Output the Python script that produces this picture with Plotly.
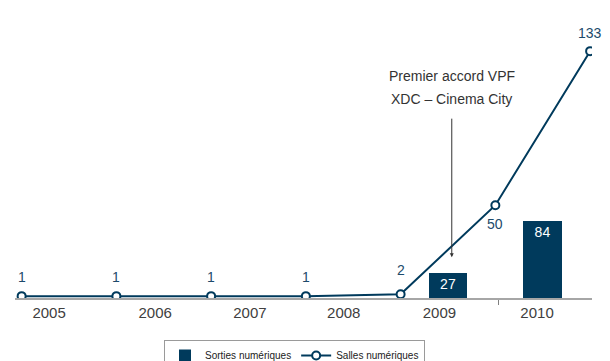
import plotly.graph_objects as go

# ---- data ----
years = ["2005", "2006", "2007", "2008", "2009", "2010"]
sorties = [None, None, None, None, 27, 84]          # Sorties numériques (bars)
salles = [1, 1, 1, 1, 2, 50, 133]                   # Salles numériques (line, at year boundaries)

NAVY = "#003a5c"
LABEL = "#1d4a6b"
FONT = "Liberation Sans, Arial, sans-serif"

line_x = list(range(len(salles)))
bar_x = [i + 0.5 for i in range(len(years))]

fig = go.Figure()

fig.add_trace(go.Bar(
    x=bar_x, y=sorties, name="Sorties numériques",
    marker=dict(color=NAVY, line=dict(width=0)),
    width=0.41, yaxis="y2",
    text=[("" if v is None else str(v)) for v in sorties],
    textposition="inside", insidetextanchor="end", textangle=0,
    textfont=dict(color="white", size=14, family=FONT),
    hoverinfo="skip",
))

fig.add_trace(go.Scatter(
    x=line_x, y=salles, name="Salles numériques", mode="lines+markers",
    line=dict(color=NAVY, width=2),
    marker=dict(symbol="circle", size=8, color="white", line=dict(color=NAVY, width=2)),
    hoverinfo="skip",
))

# value labels for the line
shifts = [19, 19, 19, 19, 24, -19, 18]
annotations = []
for xv, yv, s in zip(line_x, salles, shifts):
    annotations.append(dict(
        x=xv, y=yv, xref="x", yref="y", text=str(yv), showarrow=False,
        yshift=s, font=dict(color=LABEL, size=14, family=FONT),
    ))

# callout text + arrow
annotations.append(dict(
    x=4.54, y=1, xref="x", yref="paper", yanchor="middle",
    text="Premier accord VPF", showarrow=False, yshift=-46,
    font=dict(color="#333333", size=14, family=FONT),
))
annotations.append(dict(
    x=4.54, y=1, xref="x", yref="paper", yanchor="middle",
    text="XDC – Cinema City", showarrow=False, yshift=-69,
    font=dict(color="#333333", size=14, family=FONT),
))
annotations.append(dict(
    x=4.54, y=22, xref="x", yref="y", text="", showarrow=True,
    axref="pixel", ayref="pixel", ax=0, ay=-140,
    arrowhead=2, arrowsize=0.8, arrowwidth=1, arrowcolor="#333333",
))

label_pos = [0.29, 1.41, 2.41, 3.40, 4.41, 5.44]

fig.update_layout(
    width=610, height=361,
    margin=dict(l=15, r=18, t=30, b=63, autoexpand=False),
    paper_bgcolor="white", plot_bgcolor="white",
    font=dict(family=FONT),
    showlegend=True,
    legend=dict(
        orientation="h", x=164 / 610, y=1 - 340 / 361, xref="container", yref="container",
        xanchor="left", yanchor="top",
        font=dict(size=10, color="#222222", family=FONT),
        bordercolor="#9a9a9a", borderwidth=1, bgcolor="white",
        traceorder="normal", itemwidth=30,
    ),
    xaxis=dict(
        range=[-0.07, 6.02], showgrid=False, zeroline=False, automargin=False,
        showline=True, linecolor="#a6a6a6", linewidth=2,
        tickmode="array", tickvals=label_pos, ticktext=years, ticks="",
        tickfont=dict(size=15, color="#404040", family=FONT),
        layer="below traces",
        minor=dict(tickmode="array", tickvals=[5.03], ticks="outside", ticklen=5,
                   tickcolor="#808080", tickwidth=1),
    ),
    yaxis=dict(range=[0, 144.4], visible=False, showgrid=False, zeroline=False),
    yaxis2=dict(range=[0, 291], overlaying="y", visible=False, showgrid=False, zeroline=False),
    annotations=annotations,
    bargap=0,
)

fig.write_html("out.html")
